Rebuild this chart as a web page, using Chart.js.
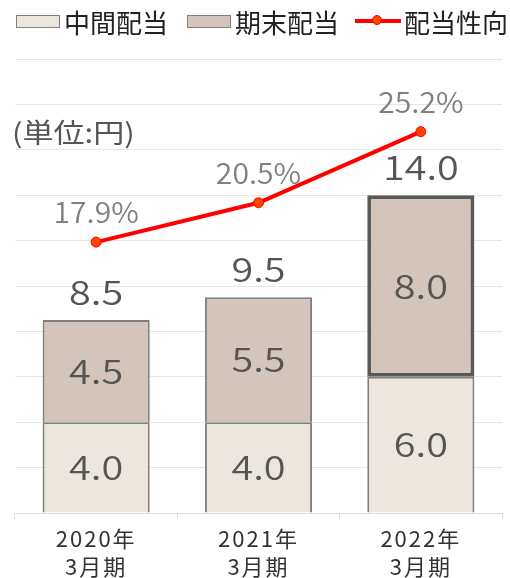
<!DOCTYPE html>
<html>
<head>
<meta charset="utf-8">
<script src="https://cdn.jsdelivr.net/npm/chart.js@4.4.1/dist/chart.umd.min.js"></script>
<style>
  body { margin: 0; background: #fff; }
  #wrap { position: relative; width: 510px; height: 578px; }
  #legend { position: absolute; left: 0; top: 0; width: 510px; height: 45px; font-family: 'Noto Sans CJK JP', sans-serif; font-size: 26px; color: #222; }
  .item { position: absolute; top: 4px; display: flex; align-items: center; height: 34px; }
  .box { width: 42px; height: 11px; border: 1.5px solid #808080; margin-right: 4px; }
  .ln { position: relative; width: 46px; height: 4px; background: #f00; margin-right: 3px; }
  .ln i { position: absolute; left: 17px; top: -4px; width: 10px; height: 10px; border-radius: 50%; background: #ff4500; border: 1px solid #f00; box-sizing: border-box; }
</style>
</head>
<body>
<div id="wrap">
  <canvas id="c" width="510" height="578"></canvas>
  <div id="legend"></div>
</div>
<script>
'use strict';
const FONT = "'Noto Sans CJK JP', sans-serif";

const categories = [['2020年', '3月期'], ['2021年', '3月期'], ['2022年', '3月期']];
const seriesNames = ['中間配当', '期末配当', '配当性向'];
const interim = [4.0, 4.0, 6.0];
const yearEnd = [4.5, 5.5, 8.0];
const payoutRatio = [17.9, 20.5, 25.2];
const unitLabel = '(単位:円)';

const C_INTERIM = '#ece6de';
const C_YEAREND = '#d3c5bc';
const C_EDGE = '#808080';
const C_LINE = '#ff0000';

(function() {
  const lg = document.getElementById('legend');
  const lefts = [16, 187, 355];
  seriesNames.forEach((n, i) => {
    const d = document.createElement('div');
    d.className = 'item';
    d.style.left = lefts[i] + 'px';
    if (i < 2) {
      d.innerHTML = `<span class="box" style="background:${i ? C_YEAREND : C_INTERIM}"></span><span>${n}</span>`;
    } else {
      d.innerHTML = `<span class="ln"><i></i></span><span>${n}</span>`;
    }
    lg.appendChild(d);
  });
})();

// reference glyphs are wider than Noto's, so stretch a bit
function wideText(ctx, text, x, y, sx) {
  ctx.save();
  ctx.translate(x, y);
  ctx.scale(sx, 1);
  ctx.fillText(text, 0, 0);
  ctx.restore();
}

const valueLabels = {
  id: 'valueLabels',
  beforeDraw(chart) { chart.ctx.letterSpacing = '2px'; },
  afterDatasetsDraw(chart) {
    const ctx = chart.ctx;
    ctx.save();
    ctx.letterSpacing = '0px';
    ctx.textAlign = 'center';
    ctx.textBaseline = 'middle';
    ctx.font = `350 33px ${FONT}`;
    ctx.fillStyle = '#555';
    [interim, yearEnd].forEach((vals, di) => {
      chart.getDatasetMeta(di).data.forEach((bar, i) => {
        wideText(ctx, vals[i].toFixed(1), bar.x, (bar.y + bar.base) / 2, 1.2);
      });
    });
    chart.getDatasetMeta(1).data.forEach((bar, i) => {
      wideText(ctx, (interim[i] + yearEnd[i]).toFixed(1), bar.x, bar.y - 28, 1.2);
    });
    ctx.font = `350 29px ${FONT}`;
    ctx.fillStyle = '#808080';
    chart.getDatasetMeta(2).data.forEach((pt, i) => {
      wideText(ctx, payoutRatio[i].toFixed(1) + '%', pt.x, pt.y - 30, 1.04);
    });
    ctx.textAlign = 'left';
    ctx.fillStyle = '#555';
    ctx.font = `27px ${FONT}`;
    wideText(ctx, unitLabel, 12, 133, 1.15);
    ctx.restore();
  }
};

new Chart(document.getElementById('c'), {
  data: {
    labels: categories,
    datasets: [
      { type: 'bar', label: seriesNames[0], data: interim, backgroundColor: C_INTERIM,
        borderColor: C_EDGE, borderWidth: 2, order: 2 },
      { type: 'bar', label: seriesNames[1], data: yearEnd, backgroundColor: C_YEAREND,
        borderColor: c => c.dataIndex === 2 ? '#595959' : C_EDGE,
        borderWidth: c => c.dataIndex === 2 ? 4 : 2,
        borderSkipped: c => c.dataIndex === 2 ? false : 'start', order: 2 },
      { type: 'line', label: seriesNames[2], data: payoutRatio, yAxisID: 'y1',
        borderColor: C_LINE, borderWidth: 4, pointRadius: 5, pointBackgroundColor: '#ff4500',
        pointBorderColor: C_LINE, pointBorderWidth: 1, order: 0 }
    ]
  },
  options: {
    responsive: false, animation: false,
    layout: { padding: { left: 15, right: 8, top: 59, bottom: 0 } },
    datasets: { bar: { categoryPercentage: 1, barPercentage: 0.66 } },
    plugins: { legend: { display: false }, tooltip: { enabled: false } },
    scales: {
      x: {
        stacked: true, offset: true,
        grid: { drawOnChartArea: false, tickLength: 6, color: '#ddd', offset: true },
        border: { color: '#ddd' },
        ticks: { color: '#333', font: { family: FONT, size: 22, lineHeight: 1.3 }, padding: 5 },
        afterFit: s => { s.height = 65; }
      },
      y: {
        stacked: true, min: 0, max: 20,
        ticks: { display: false, stepSize: 2 },
        grid: { color: '#e6e6e6', drawTicks: false },
        border: { display: false },
        afterFit: s => { s.width = 0; }
      },
      y1: { display: false, min: 0, max: 30 }
    }
  },
  plugins: [valueLabels]
});
</script>
</body>
</html>
